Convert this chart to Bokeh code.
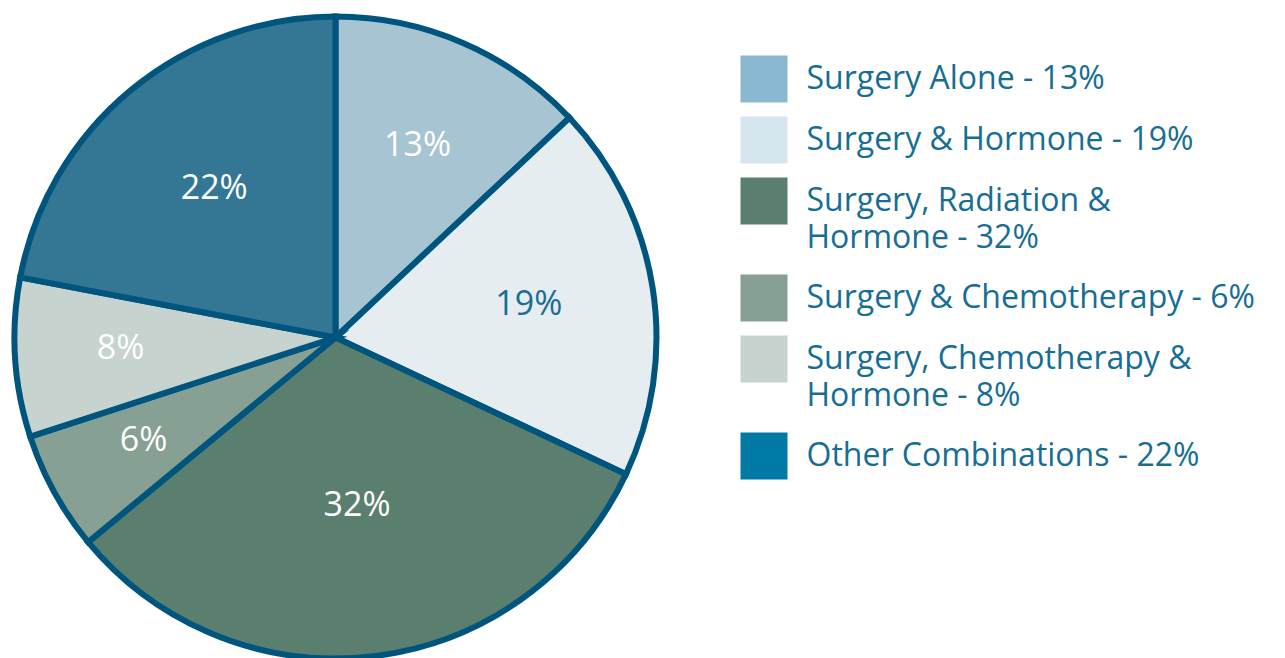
import math
from bokeh.plotting import figure
from bokeh.models import ColumnDataSource
from bokeh.core.properties import value
from bokeh.embed import file_html
from bokeh.resources import INLINE

# ---- data ----
categories = [
    "Surgery Alone",
    "Surgery & Hormone",
    "Surgery, Radiation &\nHormone",
    "Surgery & Chemotherapy",
    "Surgery, Chemotherapy &\nHormone",
    "Other Combinations",
]
values = [13, 19, 32, 6, 8, 22]

# ---- styles ----
slice_colors = ["#a7c4d2", "#e5edf1", "#5b7f6f", "#86a093", "#c6d3ce", "#337795"]
legend_colors = ["#8ab8d1", "#d5e6ef", "#5b7f6f", "#86a093", "#c6d3ce", "#007aa5"]
label_colors = ["#ffffff", "#1b6d92", "#ffffff", "#ffffff", "#ffffff", "#ffffff"]
border = "#00557f"
text_color = "#176e94"
FONT = "Open Sans"

W, H = 1285, 658
p = figure(width=W, height=H, x_range=(0, W), y_range=(0, H),
           output_backend="svg", toolbar_location=None,
           x_axis_location=None, y_axis_location=None,
           min_border=0, outline_line_color=None)
p.grid.visible = False

def sy(screen_y):
    return H - screen_y

cx, cy, R = 335, sy(337), 321
total = float(sum(values))
starts, ends, lx, ly, labels = [], [], [], [], []
cum = 0
for v in values:
    s = math.pi / 2 - 2 * math.pi * cum / total
    cum += v
    e = math.pi / 2 - 2 * math.pi * cum / total
    starts.append(s)
    ends.append(e)
    mid = (s + e) / 2
    pct = 100.0 * v / total
    r = R * (0.716 - 0.0056 * pct)
    lx.append(cx + r * math.cos(mid))
    ly.append(cy + r * math.sin(mid) + 5)
    labels.append(f"{v}%")

src = ColumnDataSource(dict(start=starts, end=ends, color=slice_colors))
p.wedge(x=cx, y=cy, radius=R, start_angle="start", end_angle="end",
        direction="clock", fill_color="color", line_color=border,
        line_width=6, line_join="miter", source=src)

lsrc = ColumnDataSource(dict(x=lx, y=ly, text=labels, color=label_colors))
p.text(x="x", y="y", text="text", text_color="color", source=lsrc,
       text_align="center", text_baseline="middle",
       text_font=value(FONT), text_font_size="34px")

# ---- legend ----
sw = 47
top = 55
rx, ry, tx, ty, tt = [], [], [], [], []
prev_lines = 1
for i, (cat, v) in enumerate(zip(categories, values)):
    if i > 0:
        top += 61 + 36 * (prev_lines - 1)
    lines = f"{cat} - {v}%".split("\n")
    rx.append(740 + sw / 2)
    ry.append(sy(top + sw / 2))
    for j, line in enumerate(lines):
        tx.append(806)
        ty.append(sy(top + sw / 2 + 37 * j - 3))
        tt.append(line)
    prev_lines = len(lines)

p.rect(x=rx, y=ry, width=sw, height=sw, fill_color=legend_colors, line_color=None)
p.text(x=tx, y=ty, text=tt, text_color=text_color, text_align="left",
       text_baseline="middle", text_font=value(FONT), text_font_size="32px")

open("out.html", "w").write(file_html(p, INLINE))
